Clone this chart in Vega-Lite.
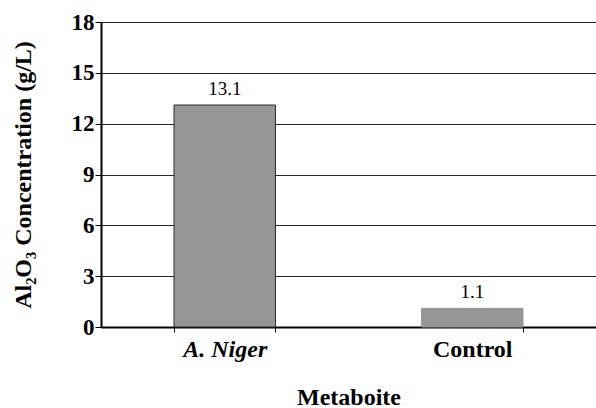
{
  "$schema": "https://vega.github.io/schema/vega-lite/v6.json",
  "autosize": "none",
  "width": 495,
  "height": 305,
  "padding": {"left": 101, "top": 22, "right": 0, "bottom": 81},
  "background": "white",
  "config": {"view": {"stroke": null}, "font": "Liberation Serif, Times New Roman, serif"},
  "data": {"values": [
    {"Metaboite": "A. Niger", "conc": 13.1},
    {"Metaboite": "Control", "conc": 1.1}
  ]},
  "encoding": {
    "x": {"field": "Metaboite", "type": "nominal", "sort": null,
      "scale": {"paddingInner": 0.59, "paddingOuter": 0.295},
      "axis": {"title": "Metaboite", "titleFont": "Liberation Serif, Times New Roman, serif", "titleFontSize": 24, "titleFontWeight": "bold", "titleColor": "black", "titlePadding": 24,
        "labelFont": "Liberation Serif, Times New Roman, serif", "labelFontSize": 24, "labelFontWeight": "bold", "labelColor": "black", "labelAngle": 0, "labelPadding": 5,
        "labelFontStyle": {"condition": {"test": "datum.value == 'A. Niger'", "value": "italic"}, "value": "normal"},
        "domainColor": "black", "domainWidth": 2, "tickColor": "black", "tickWidth": 1, "tickSize": 5, "tickBand": "extent"}},
    "y": {"field": "conc", "type": "quantitative",
      "scale": {"domain": [0, 18], "nice": false},
      "axis": {"title": "Al₂O₃ Concentration (g/L)", "titleFont": "Liberation Serif, Times New Roman, serif", "titleFontSize": 24, "titleFontWeight": "bold", "titleColor": "black", "titlePadding": 36,
        "values": [0, 3, 6, 9, 12, 15, 18], "labelFont": "Liberation Serif, Times New Roman, serif", "labelFontSize": 23, "labelFontWeight": "bold", "labelColor": "black", "labelPadding": 1,
        "domainColor": "black", "domainWidth": 2, "tickColor": "black", "tickSize": 6, "grid": true, "gridColor": "black", "gridWidth": 1, "gridOpacity": 0.85}}
  },
  "layer": [
    {"mark": {"type": "bar", "fill": "#969696", "strokeWidth": 1},
      "encoding": {"stroke": {"condition": {"test": "datum.Metaboite == 'Control'", "value": "#969696"}, "value": "#2b2b2b"}}},
    {"mark": {"type": "text", "font": "Liberation Serif, Times New Roman, serif", "fontSize": 19, "color": "black", "baseline": "bottom", "dy": -6},
      "encoding": {"text": {"field": "conc", "type": "quantitative", "format": ".1f"}}}
  ]
}
